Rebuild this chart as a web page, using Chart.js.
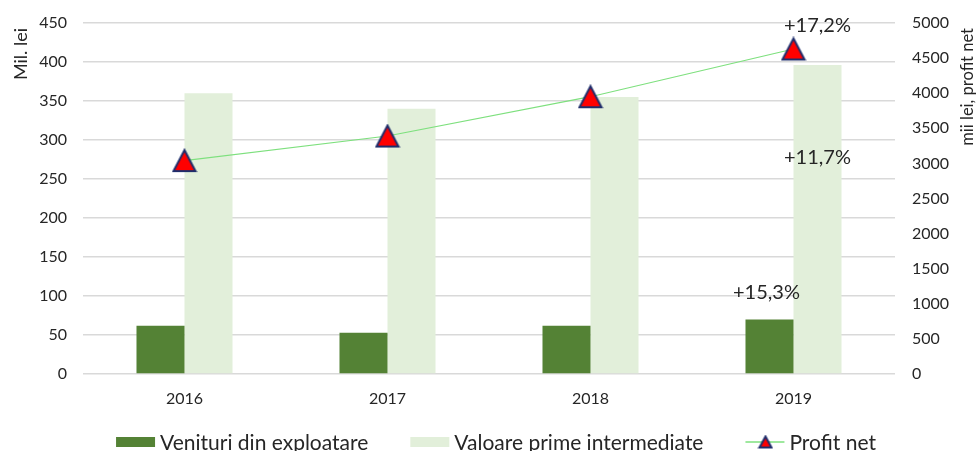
<!DOCTYPE html>
<html>
<head>
<meta charset="utf-8">
<script src="https://cdn.jsdelivr.net/npm/chart.js@4.4.1/dist/chart.umd.min.js"></script>
<style>
  html, body { margin: 0; padding: 0; background: #fff; overflow: hidden; }
  #wrap { width: 976px; height: 451px; position: relative; }
</style>
</head>
<body>
<div id="wrap"><canvas id="grafic"></canvas></div>
<script>
// date
const ani = ['2016', '2017', '2018', '2019'];
const venituriExploatare = [62, 53, 62, 70];
const valoarePrime = [360, 340, 355, 396];
const profitNet = [3040, 3390, 3950, 4630];

const denumiri = ['Venituri din exploatare', 'Valoare prime intermediate', 'Profit net'];
const cresteri = ['+15,3%', '+11,7%', '+17,2%']; // 2019 fata de 2018

const culoareInchisa = '#548235';
const culoareDeschisa = '#e2efda';
const culoareLinie = '#7ee07e';
const fontFamilie = 'Lato, "Open Sans", sans-serif';
const culoareText = '#262626';

// marker triunghi centrat pe cutia lui (ca in Excel)
function triunghi(lat, inalt) {
  const c = document.createElement('canvas');
  c.width = lat + 4;
  c.height = inalt + 4;
  const g = c.getContext('2d');
  g.beginPath();
  g.moveTo(c.width / 2, 2);
  g.lineTo(c.width - 2, c.height - 2);
  g.lineTo(2, c.height - 2);
  g.closePath();
  g.fillStyle = '#ff0000';
  g.fill();
  g.lineJoin = 'miter';
  g.strokeStyle = '#1f2d6b';
  g.lineWidth = 2;
  g.stroke();
  return c;
}
const markerMare = triunghi(22, 21);
const markerMic = triunghi(12, 11);

// titluri axe, etichete de crestere si legenda
const pluginText = {
  id: 'pluginText',
  afterDatasetsDraw(chart) {
    const ctx = chart.ctx;
    const area = chart.chartArea;
    const yStanga = chart.scales.y;
    const ultim = ani.length - 1;
    const barInchis = chart.getDatasetMeta(0).data[ultim];
    const barDeschis = chart.getDatasetMeta(1).data[ultim];
    const punct = chart.getDatasetMeta(2).data[ultim];

    ctx.save();
    ctx.fillStyle = culoareText;
    ctx.font = '20px ' + fontFamilie;
    ctx.textAlign = 'center';
    ctx.textBaseline = 'middle';
    ctx.fillText(cresteri[0], barInchis.x - 3, barInchis.y - 27);
    ctx.fillText(cresteri[1], barDeschis.x, yStanga.getPixelForValue(277));
    ctx.fillText(cresteri[2], barDeschis.x, punct.y - 23);

    // titluri axe
    ctx.save();
    ctx.font = '18px ' + fontFamilie;
    ctx.translate(21, area.top + 5);
    ctx.rotate(-Math.PI / 2);
    ctx.textAlign = 'right';
    ctx.fillText('Mil. lei', 0, 0);
    ctx.restore();
    ctx.save();
    ctx.font = '16.5px ' + fontFamilie;
    ctx.translate(968, area.top + 5);
    ctx.rotate(-Math.PI / 2);
    ctx.textAlign = 'right';
    ctx.fillText('mii lei, profit net', 0, 0);
    ctx.restore();

    // legenda, centrata
    ctx.font = '21px ' + fontFamilie;
    ctx.textAlign = 'left';
    ctx.textBaseline = 'alphabetic';
    const yLeg = 450;
    const latimi = denumiri.map(t => ctx.measureText(t).width);
    const total = latimi.reduce((a, w) => a + 39 + 5 + w, 0) + 2 * 42;
    let x = (chart.width - total) / 2 + 8;
    const culori = [culoareInchisa, culoareDeschisa];
    denumiri.forEach((text, i) => {
      if (i < 2) {
        ctx.fillStyle = culori[i];
        ctx.fillRect(x, yLeg - 13, 39, 10);
      } else {
        ctx.strokeStyle = culoareLinie;
        ctx.lineWidth = 1.5;
        ctx.beginPath();
        ctx.moveTo(x, yLeg - 8);
        ctx.lineTo(x + 39, yLeg - 8);
        ctx.stroke();
        ctx.drawImage(markerMic, x + 20 - markerMic.width / 2, yLeg - 8 - markerMic.height / 2);
      }
      ctx.fillStyle = culoareText;
      ctx.fillText(text, x + 44, yLeg);
      x += 44 + latimi[i] + 42;
    });
    ctx.restore();
  }
};

const fontTick = { family: fontFamilie, size: 16 };

// latime fixa pentru axele verticale, fara padding suplimentar sus/jos
function fixeazaAxa(latime) {
  return (s) => {
    s.width = latime;
    s.paddingTop = 0;
    s.paddingBottom = 0;
  };
}

new Chart(document.getElementById('grafic'), {
  type: 'bar',
  data: {
    labels: ani,
    datasets: [
      { label: denumiri[0], data: venituriExploatare, backgroundColor: culoareInchisa, yAxisID: 'y', order: 2 },
      { label: denumiri[1], data: valoarePrime, backgroundColor: culoareDeschisa, yAxisID: 'y', order: 2 },
      {
        type: 'line', label: denumiri[2], data: profitNet, yAxisID: 'y2', order: 0,
        borderColor: culoareLinie, borderWidth: 1.2, tension: 0,
        pointStyle: markerMare, pointRadius: 13, pointHoverRadius: 13
      }
    ]
  },
  options: {
    responsive: true,
    maintainAspectRatio: false,
    animation: false,
    events: [],
    categoryPercentage: 0.473,
    barPercentage: 1,
    layout: { autoPadding: false, padding: { top: 23, bottom: 33, left: 0, right: 0 } },
    plugins: { legend: { display: false }, tooltip: { enabled: false } },
    scales: {
      x: {
        grid: { display: false, drawTicks: false },
        border: { display: false },
        ticks: { color: culoareText, font: fontTick, padding: 15 },
        afterFit: (s) => { s.height = 44; s.paddingLeft = 0; s.paddingRight = 0; }
      },
      y: {
        position: 'left',
        min: 0, max: 450,
        ticks: { stepSize: 50, color: culoareText, font: fontTick, padding: 16, callback: v => String(v) },
        grid: { color: '#d9d9d9', lineWidth: 1.5, drawTicks: false },
        border: { display: false },
        afterFit: fixeazaAxa(83)
      },
      y2: {
        position: 'right',
        min: 0, max: 5000,
        ticks: { stepSize: 500, color: culoareText, font: fontTick, padding: 17, callback: v => String(v) },
        grid: { display: false, drawTicks: false },
        border: { display: false },
        afterFit: fixeazaAxa(81)
      }
    }
  },
  plugins: [pluginText]
});
</script>
</body>
</html>
